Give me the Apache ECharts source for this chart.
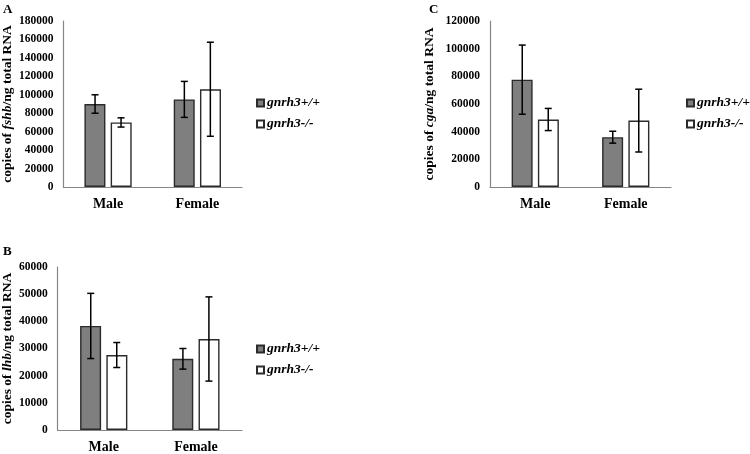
<!DOCTYPE html>
<html><head><meta charset="utf-8">
<script src="https://cdn.jsdelivr.net/npm/echarts@6/dist/echarts.min.js"></script>
<style>html,body{margin:0;padding:0;background:#fff}#c{width:750px;height:454px}</style>
</head><body><div id="c"></div>
<script>
const categories = ['Male', 'Female'];
const seriesNames = ['gnrh3+/+', 'gnrh3-/-'];

const fshbWT = [90000, 95000];
const fshbWTErr = [10000, 19500];
const fshbKO = [70000, 106000];
const fshbKOErr = [5000, 51000];

const lhbWT = [38300, 26200];
const lhbWTErr = [12000, 3800];
const lhbKO = [27600, 33500];
const lhbKOErr = [4600, 15500];

const cgaWT = [77600, 36000];
const cgaWTErr = [25000, 4300];
const cgaKO = [48800, 48000];
const cgaKOErr = [8000, 22700];

const yMaxA = 180000, yStepA = 20000;
const yMaxB = 60000, yStepB = 10000;
const yMaxC = 120000, yStepC = 20000;

const FONT = '"Liberation Serif", "Times New Roman", serif';
const AXIS_COLOR = '#868686';
const BAR_W = 21, OFFSET = 13;

const panels = [
  {gene: 'fshb', wt: fshbWT, wtE: fshbWTErr, ko: fshbKO, koE: fshbKOErr, max: yMaxA, step: yStepA,
   grid: {left: 60, right: 508, top: 21, bottom: 267}, nameGap: 48, legend: {left: 256, top: 96}},
  {gene: 'lhb', wt: lhbWT, wtE: lhbWTErr, ko: lhbKO, koE: lhbKOErr, max: yMaxB, step: yStepB,
   grid: {left: 54, right: 508, top: 267, bottom: 21}, nameGap: 42, legend: {left: 256, top: 342}},
  {gene: 'cga', wt: cgaWT, wtE: cgaWTErr, ko: cgaKO, koE: cgaKOErr, max: yMaxC, step: yStepC,
   grid: {left: 490, right: 79, top: 21, bottom: 267}, nameGap: 53, legend: {left: 686, top: 96}}
];

const option = {
  animation: false,
  textStyle: {fontFamily: FONT},
  grid: [], xAxis: [], yAxis: [], series: [], legend: [],
  graphic: [
    {type: 'text', left: 3, top: 3, style: {text: 'A', font: 'bold 13px ' + FONT, fill: '#000'}},
    {type: 'text', left: 3, top: 245, style: {text: 'B', font: 'bold 13px ' + FONT, fill: '#000'}},
    {type: 'text', left: 429, top: 3, style: {text: 'C', font: 'bold 13px ' + FONT, fill: '#000'}}
  ]
};

function errRender(offset) {
  return function (params, api) {
    const c = api.value(0);
    const hi = api.coord([c, api.value(2)]);
    const lo = api.coord([c, api.value(1)]);
    const x = hi[0] + offset;
    const st = {stroke: '#000', lineWidth: 1.5};
    return {type: 'group', children: [
      {type: 'line', shape: {x1: x, y1: hi[1], x2: x, y2: lo[1]}, style: st},
      {type: 'line', shape: {x1: x - 3.5, y1: hi[1], x2: x + 3.5, y2: hi[1]}, style: st},
      {type: 'line', shape: {x1: x - 3.5, y1: lo[1], x2: x + 3.5, y2: lo[1]}, style: st}
    ]};
  };
}

panels.forEach((p, i) => {
  option.grid.push(Object.assign({containLabel: false}, p.grid));
  option.xAxis.push({
    type: 'category', gridIndex: i, data: categories,
    axisLine: {lineStyle: {color: AXIS_COLOR, width: 1.2}},
    axisTick: {show: false},
    axisLabel: {color: '#000', fontWeight: 'bold', fontSize: 14, fontFamily: FONT, margin: 10}
  });
  option.yAxis.push({
    type: 'value', gridIndex: i, min: 0, max: p.max, interval: p.step,
    splitLine: {show: false},
    axisLine: {show: true, lineStyle: {color: AXIS_COLOR, width: 1.2}},
    axisTick: {show: false},
    axisLabel: {color: '#000', fontWeight: 'bold', fontSize: 11.5, fontFamily: FONT, margin: 10,
      formatter: v => String(v)},
    name: '{n|copies of }{i|' + p.gene + '}{n|/ng total RNA}',
    nameLocation: 'middle', nameRotate: 90, nameGap: p.nameGap,
    nameTextStyle: {
      rich: {
        n: {fontFamily: FONT, fontWeight: 'bold', fontSize: 13.5, color: '#000'},
        i: {fontFamily: FONT, fontWeight: 'bold', fontStyle: 'italic', fontSize: 13.5, color: '#000'}
      }
    }
  });
  option.series.push({
    name: seriesNames[0], type: 'bar', xAxisIndex: i, yAxisIndex: i, data: p.wt,
    barWidth: BAR_W, barGap: '25%',
    itemStyle: {color: '#7f7f7f', borderColor: '#2b2b2b', borderWidth: 1.4}
  });
  option.series.push({
    name: seriesNames[1], type: 'bar', xAxisIndex: i, yAxisIndex: i, data: p.ko,
    barWidth: BAR_W, barGap: '25%',
    itemStyle: {color: '#ffffff', borderColor: '#2b2b2b', borderWidth: 1.4}
  });
  option.series.push({
    type: 'custom', xAxisIndex: i, yAxisIndex: i, z: 10,
    renderItem: errRender(-OFFSET),
    data: p.wt.map((v, k) => [k, v - p.wtE[k], v + p.wtE[k]])
  });
  option.series.push({
    type: 'custom', xAxisIndex: i, yAxisIndex: i, z: 10,
    renderItem: errRender(OFFSET),
    data: p.ko.map((v, k) => [k, v - p.koE[k], v + p.koE[k]])
  });
  option.legend.push({
    data: seriesNames, orient: 'vertical', left: p.legend.left, top: p.legend.top,
    padding: 0, itemGap: 7, itemWidth: 7, itemHeight: 7, icon: 'rect',
    selectedMode: false,
    textStyle: {fontFamily: FONT, fontWeight: 'bold', fontStyle: 'italic', fontSize: 13.5,
      color: '#000', lineHeight: 14, padding: [0, 0, 0, -2]}
  });
});

const chart = echarts.init(document.getElementById('c'), null, {renderer: 'canvas'});
chart.setOption(option);
</script>
</body></html>
